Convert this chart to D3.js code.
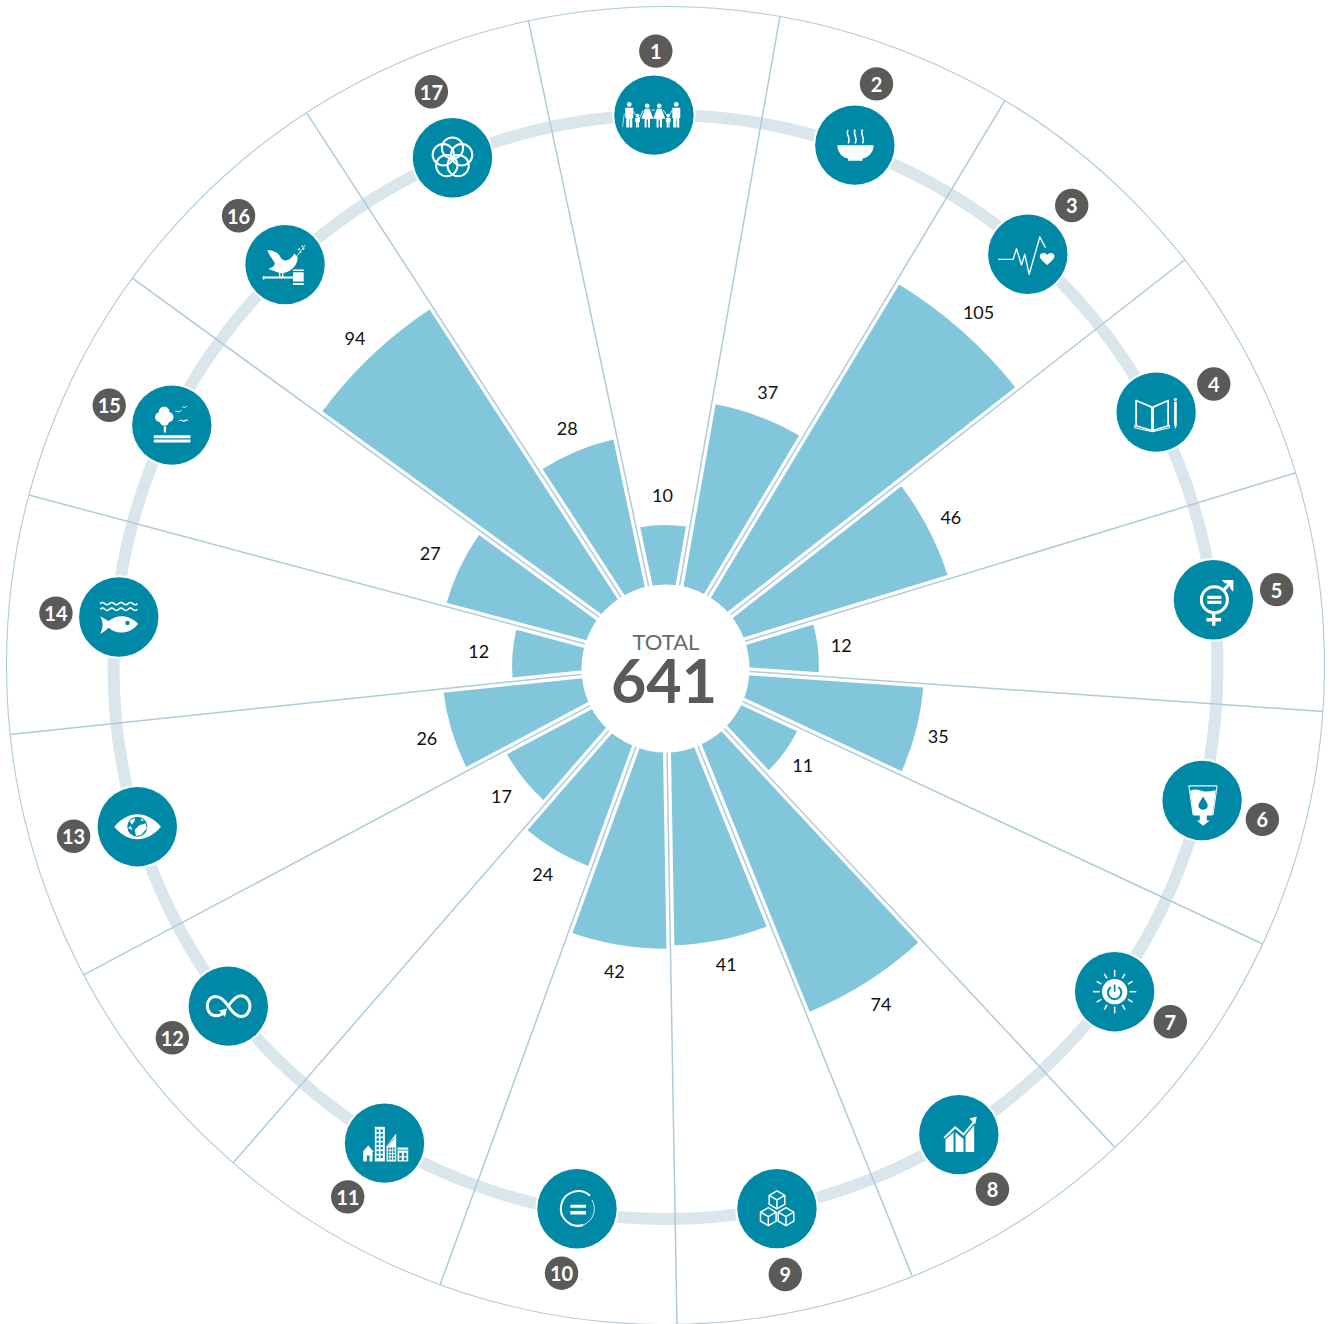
<!DOCTYPE html>
<html>
<head>
<meta charset="utf-8">
<script src="https://cdn.jsdelivr.net/npm/d3@7/dist/d3.min.js"></script>
<style>
html,body{margin:0;padding:0;background:#fff}
svg{display:block}
text{font-family:Lato,"Open Sans",sans-serif}
</style>
</head>
<body>
<svg id="chart" width="1330" height="1324"></svg>
<script>
const goalIds = [1,2,3,4,5,6,7,8,9,10,11,12,13,14,15,16,17];
const goalValues = [10,37,105,46,12,35,11,74,41,42,24,17,26,12,27,94,28];
const sectorDegrees = [22,21,21,21,21,21,22,21,21,21,21,21,22,21,21,21,21];
const totalLabel = "TOTAL";

// layout
const cx = 665.5, cy = 665.5, ringCy = 667, hubCy = 668.5;
const deg = Math.PI/180;
const C = {line:"#aecbd8", ring:"#d9e6ec", bar:"#82c6dc", icon:"#0089a6", badge:"#5a5a58", total:"#5a5a5a"};
const R = {hub:84, ring:552, outer:659, icon:39.7, badge:617};
const labelGap = [30,26,25.5,25.5,23.5,23,22.5,26,25,27,27,28,26,34,33,24,25];
const iconNudge = [-.2,-.55,-.2,0,-.5,-.5,-.1,.4,-.15,-.2,.1,.2,-.25,.7,.6,0,-.2];
const badgeNudge = [.1,-.6,-.2,.2,-.7,-.2,-.9,.5,.4,.2,.5,1.1,.6,.6,-.3,.1,.3];
const iconShift = [[0,0],[1,-3],[-2,2],[1,0],[0,0],[1,0],[2,1],[0,0],[0,1],[.7,-3],[0,1],[-4,-3],[-1,-4],[3,0],[2,1],[-.5,-2],[0,0]];
const badgeShift = [[0,1],[1,-3],[-1,2],[0,0],[-1,0],[-1,0],[0,0],[0,-1],[1,2],[0,-2],[0,1],[-3,-4],[0,-5],[5,1],[2,1],[-3,-3],[-1,-4]];

const radius = d3.scaleRadial().domain([0,74,94,105]).range([29.5,375,427,447]);
const sectors = d3.pie().value(d=>d).sort(null).startAngle(-12*deg).endAngle(348*deg)(sectorDegrees);
const mid = i=>(sectors[i].startAngle+sectors[i].endAngle)/2;
const rows = goalValues.map((v,i)=>({v,i,startAngle:sectors[i].startAngle,endAngle:sectors[i].endAngle,mid:mid(i)}));

const svg = d3.select("#chart");

svg.append("circle").attr("cx",cx).attr("cy",cy).attr("r",R.outer)
  .attr("fill","none").attr("stroke",C.line).attr("stroke-width",1.1);

svg.append("circle").attr("cx",cx).attr("cy",ringCy).attr("r",R.ring)
  .attr("fill","none").attr("stroke",C.ring).attr("stroke-width",12);

const g = svg.append("g").attr("transform",`translate(${cx},${cy})`);

// sector dividers
g.selectAll("line.div").data(rows).join("line").attr("class","div")
  .attr("x1",d=>d3.pointRadial(d.endAngle,78)[0])
  .attr("y1",d=>d3.pointRadial(d.endAngle,78)[1])
  .attr("x2",d=>d3.pointRadial(d.endAngle,R.outer)[0])
  .attr("y2",d=>d3.pointRadial(d.endAngle,R.outer)[1])
  .attr("stroke",C.line).attr("stroke-width",1.5);

// bars
const arc = d3.arc()
  .innerRadius(76)
  .outerRadius(d=>radius(d.v))
  .padAngle(8/300).padRadius(300);
g.selectAll("path.bar").data(rows).join("path")
  .attr("class","bar").attr("d",arc).attr("fill",C.bar);

// value labels
g.selectAll("text.val").data(rows).join("text")
  .attr("class","val")
  .attr("x",d=>d3.pointRadial(d.mid,radius(d.v)+labelGap[d.i])[0])
  .attr("y",d=>d3.pointRadial(d.mid,radius(d.v)+labelGap[d.i])[1])
  .attr("text-anchor","middle").attr("dominant-baseline","central")
  .attr("font-size",18).attr("fill","#111").text(d=>d.v);

// hub
svg.append("circle").attr("cx",cx).attr("cy",hubCy).attr("r",R.hub).attr("fill","#fff");
svg.append("text").attr("x",cx+.5).attr("y",650).attr("text-anchor","middle")
  .attr("font-size",22).attr("fill","#6a6a6a").text(totalLabel);
svg.append("text").attr("x",cx-1.5).attr("y",703).attr("text-anchor","middle")
  .attr("font-size",61).attr("font-weight",700).attr("fill",C.total).text(d3.sum(goalValues));

// icon glyphs, drawn in 3x local units around their own centre
const T_ = `fill="${C.icon}"`;
const ln = (d,w=3,c="#fff")=>`<path d="${d}" fill="none" stroke="${c}" stroke-width="${w}" stroke-linejoin="round"/>`;
const fl = (d,c="#fff")=>`<path d="${d}" fill="${c}"/>`;
const ci = (x,y,r,c="#fff")=>`<circle cx="${x}" cy="${y}" r="${r}" fill="${c}"/>`;
const man = x=>ci(x,223,7)+fl(`M${x-12} 233h24v31h-3v28h-8v-26h-2v26h-8v-28h-3z`);
const woman = x=>ci(x,227,7)+fl(`M${x-7} 236h14l11 30h-10v26h-6v-24h-4v24h-6v-26h-10z`);
const kid = x=>ci(x,256,5)+fl(`M${x-7} 263h14v13h-3v16h-4v-14h-1v14h-4v-16h-2z`);
const cube = (x,y,r=27)=>{
  const a=r*.866,b=r/2;
  return ln(`M${x} ${y-r}L${x+a} ${y-b}V${y+b}L${x} ${y+r}L${x-a} ${y+b}V${y-b}Z`,4.5)
        +ln(`M${x-a} ${y-b}L${x} ${y}L${x+a} ${y-b}M${x} ${y}V${y+r}`,4.5);
};
const wave = (x0,y,k)=>{let s=`M${x0} ${y}`;for(let i=0;i<k;i++)s+=`q7 -7 14 0t14 0`;return s;};
const bird = (x,y,s=1)=>fl(`M${x-12*s} ${y+1}Q${x-4*s} ${y-5*s} ${x} ${y}Q${x+6*s} ${y-5*s} ${x+13*s} ${y-2*s}Q${x+6*s} ${y-1*s} ${x} ${y+3*s}Q${x-4*s} ${y-2*s} ${x-12*s} ${y+1}Z`);

const glyphs = [
 {c:[162,255],s:
   ln("M73 250L68 290",2)+ln("M97 240L113 262L120 262L130 240M155 240L165 240M190 240L205 262L217 240",2.5)
   +man(88)+kid(113)+woman(142)+woman(178)+kid(205)+man(229)},
 {c:[765,345],s:
   fl("M712 345H822C820 368 805 382 788 385V392H745V385C728 382 714 368 712 345Z")
   +ln("M745 300C735 312 755 322 745 340M766 298C756 312 776 322 766 340M788 298C778 312 798 322 788 340",4.5)},
 {c:[144,190],s:
   ln("M55 205H100L110 173L125 222L135 190L148 250L180 138L197 170",4)
   +fl("M202 222C190 212 180 204 180 195C180 186 195 182 202 192C209 182 224 186 224 195C224 204 214 212 202 222Z")},
 {c:[530,665],s:
   ln("M517 650L470 630V706L517 720ZM521 650L566 630V706L521 720Z",5)
   +ln("M466 704V712L519 724L570 712V704",3.5)
   +ci(588,627,4.5)+fl("M584 634H592V704L588 716L584 704Z")},
 {c:[459,150],s:
   `<circle cx="462" cy="150" r="39" fill="none" stroke="#fff" stroke-width="9"/>`
   +fl("M441 138H483V148H441ZM441 153H483V163H441Z")
   +ln("M489 122L512 98",10)+fl("M484 91H519V126L509 116V101H494Z")
   +ln("M460 190V228M438 210H482",10)},
 {c:[425,752],s:
   ln("M385 708H470",3.5)+ln("M385 708L398 795M470 708L458 795",3)
   +fl("M389 723Q405 716 420 722T466 721L456 797H439V812H448L428 828L409 812H418V797H399Z")
   +fl("M428 740C421 752 414 760 414 767A14 13 0 0 0 442 767C442 760 435 752 428 740Z",C.icon)},
 {c:[165,1325],s:
   ci(165,1325,38)+d3.range(12).map(i=>{
     const a=i*30*deg,s=Math.sin(a),c=Math.cos(a);
     const r0=i%3==0?45:46,r1=i%3==0?65:62;
     return ln(`M${165+r0*s} ${1325-r0*c}L${165+r1*s} ${1325-r1*c}`,4.5);
   }).join("")
   +`<path d="M176 1311A20 20 0 1 1 154 1311" fill="none" stroke="${C.icon}" stroke-width="6"/>`
   +ln("M165 1304V1325",5,C.icon)},
 {c:[716,135],s:
   fl("M676 150L700 128V187H676ZM706 128L730 148V187H706ZM736 125L762 100V187H736Z")
   +ln("M668 148L705 112L730 135L768 88",14,C.icon)
   +ln("M672 145L705 113L730 135L762 96",6)+fl("M748 87L770 81L765 104Z")},
 {c:[170,354],s:cube(170,328)+cube(144,378)+cube(197,378)},
 {c:[740,326],s:
   ln("M779 287A52 52 0 1 0 758 375",6)+ln("M758 375A52 52 0 0 0 785 300",2.5)
   +fl("M720 314H767V323H720ZM720 333H767V343H720Z")},
 {c:[162,129],s:
   fl("M97 155L113 136L130 155H126V184H117V166H109V184H98V155Z")
   +fl("M133 80H163V184H133Z")
   +d3.range(7).map(r=>[0,1].map(c=>`<rect x="${138+c*12}" y="${88+r*13}" width="7" height="8" ${T_}/>`).join("")).join("")
   +fl("M168 138L197 100V184H168Z")
   +d3.range(4).map(r=>[0,1,2].map(c=>`<rect x="${172+c*8}" y="${142+r*10}" width="5" height="7" ${T_}/>`).join("")).join("")
   +ln("M194 112L171 138",2,C.icon)
   +fl("M201 142H233V184H201Z")
   +ln("M201 150H233",2.5,C.icon)+fl("M206 158H214V168H206ZM220 158H228V168H220ZM206 172H214V180H206ZM220 172H228V180H220Z",C.icon)},
 {c:[566,1309],s:
   ln("M566 1309C552 1288 540 1280 528 1280C512 1280 503 1294 503 1309C503 1326 514 1338 530 1338C540 1338 548 1334 556 1326M566 1309C580 1288 592 1278 604 1278C620 1278 631 1293 631 1309C631 1326 620 1340 604 1340C592 1340 580 1330 566 1309",9)
   +fl("M538 1322L562 1316L556 1342Z")},
 {c:[290,766],s:
   fl("M221 766C262 716 318 716 361 766C318 816 262 816 221 766Z")
   +ci(290,766,30,C.icon)
   +fl("M268 748L282 740L282 750L272 760ZM262 770L270 764L276 776ZM296 762L316 756L318 772L302 790L286 794L282 776ZM300 742L310 746L304 750Z")},
 {c:[234,140],s:
   ln(wave(178,100,4),4.5)+ln(wave(178,117,4),4.5)
   +fl("M178 138C194 146 196 150 204 152C228 130 268 134 292 160C268 194 224 192 204 172C196 178 192 184 178 190C188 172 188 156 178 138Z")
   +ci(260,158,6.5,C.icon)},
 {c:[242,676],s:
   ci(219,636,16)+ci(207,652,15)+ci(232,652,15)+ci(220,664,14)
   +fl("M218 680H225V698H218Z")+fl("M188 706H298V715H188ZM188 719H298V728H188Z")
   +bird(262,635,1)+bird(280,622,.8)+bird(277,663,1.3)},
 {c:[584,195],s:
   fl("M531 151C552 152 566 160 572 176C584 188 600 184 612 162L622 172C622 194 606 216 578 220H568L534 208C546 204 552 200 554 192C548 180 536 168 531 151Z")
   +ln("M615 176C622 166 632 152 645 136",2.5)
   +fl("M622 150l6 -6 0 9zM632 140l6 -4 -1 8zM626 158l8 -4 -4 7zM636 148l8 -5 -4 8z")
   +fl("M566 215H570V232H566ZM575 215H579V232H575Z")
   +fl("M517 229H522V231H608V237H522V240H517Z")
   +fl("M608 210H640V214H608ZM608 218H640V246H608ZM608 250H640V256H608Z")},
 {c:[156,261],s:
   d3.range(5).map(i=>{
     const a=i*72*deg;
     return `<circle cx="${156+29*Math.sin(a)}" cy="${261-29*Math.cos(a)}" r="32" fill="none" stroke="#fff" stroke-width="6"/>`;
   }).join("")}
];

// icon discs + glyphs
const top_ = svg.append("g").attr("transform",`translate(${cx},${ringCy})`);
const place = (i,nudge,r,shift)=>{
  const p = d3.pointRadial(mid(i)+nudge[i]*deg,r);
  return `translate(${p[0]+shift[i][0]},${p[1]+shift[i][1]})`;
};
const iconG = top_.selectAll("g.icon").data(goalIds).join("g").attr("class","icon")
  .attr("transform",(d,i)=>place(i,iconNudge,R.ring,iconShift));
iconG.append("circle").attr("r",R.icon).attr("fill",C.icon)
  .attr("stroke","#fff").attr("stroke-width",4).attr("paint-order","stroke");
iconG.append("g")
  .attr("transform",(d,i)=>`scale(${1/3}) translate(${-glyphs[i].c[0]},${-glyphs[i].c[1]})`)
  .html((d,i)=>glyphs[i].s);

// number badges
const badgeG = top_.selectAll("g.badge").data(goalIds).join("g").attr("class","badge")
  .attr("transform",(d,i)=>place(i,badgeNudge,R.badge,badgeShift));
badgeG.append("circle").attr("r",16.7).attr("fill",C.badge);
badgeG.append("text").attr("text-anchor","middle").attr("dominant-baseline","central")
  .attr("font-size",20).attr("font-weight",700).attr("fill","#fff").text(d=>d);
</script>
</body>
</html>
